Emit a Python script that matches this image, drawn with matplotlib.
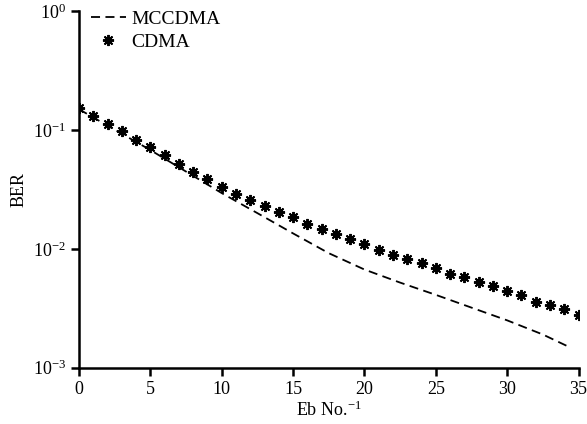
import numpy as np
import matplotlib
matplotlib.use('Agg')
import matplotlib.pyplot as plt

# CDMA: one point per integer Eb/No
cdma_x = np.arange(0, 36)
cdma_ber = [0.154, 0.132, 0.113, 0.098, 0.083, 0.072, 0.062, 0.052, 0.044, 0.039,
            0.033, 0.029, 0.0258, 0.023, 0.0205, 0.0186, 0.0162, 0.0147, 0.0133, 0.0121,
            0.0110, 0.0098, 0.0089, 0.0082, 0.0076, 0.0069, 0.0061, 0.0058, 0.0053, 0.0049,
            0.0044, 0.0041, 0.0036, 0.0034, 0.0031, 0.0028]

# MCCDMA: dashed curve
mc_x = [0, 5, 10, 12.5, 15, 17.5, 20, 22.5, 25, 27.5, 30, 32.5, 34.3]
mc_ber = [0.150, 0.068, 0.0295, 0.020, 0.0135, 0.0092, 0.0067, 0.0052, 0.0041,
          0.0032, 0.0025, 0.0019, 0.0015]

plt.rcParams['font.family'] = ['Liberation Serif', 'DejaVu Serif']
plt.rcParams['mathtext.fontset'] = 'custom'
plt.rcParams['mathtext.rm'] = 'Liberation Serif'
plt.rcParams['mathtext.it'] = 'Liberation Serif:italic'

fig = plt.figure(figsize=(5.87, 4.24), dpi=100)
ax = fig.add_axes([0.1346, 0.133, 0.851, 0.840])

ax.plot(mc_x, mc_ber, color='black', linestyle=(0, (5, 3)), linewidth=1.3, label='MCCDMA')
ax.plot(cdma_x, cdma_ber, linestyle='none', marker=(8, 2, 0), markersize=8,
        markeredgewidth=1.4, color='black', label='CDMA')

ax.set_yscale('log')
ax.set_xlim(0, 35)
ax.set_ylim(1e-3, 1)
ax.set_xticks(range(0, 36, 5))
ax.set_yticks([1e-3, 1e-2, 1e-1, 1])
ax.set_yticklabels(['$10^{-3}$', '$10^{-2}$', '$10^{-1}$', '$10^{0}$'])
ax.minorticks_off()

for s in ['top', 'right']:
    ax.spines[s].set_visible(False)
for s in ['left', 'bottom']:
    ax.spines[s].set_linewidth(1.8)
ax.tick_params(direction='out', length=6, width=1.8, labelsize=13)

ax.set_xlabel('Eb No.$^{-1}$', fontsize=13, labelpad=2)
ax.set_ylabel('BER', fontsize=13)

ax.legend(loc='upper left', frameon=False, fontsize=14, handlelength=1.8,
          handletextpad=0.3, borderaxespad=0.2, labelspacing=0.25,
          bbox_to_anchor=(0.0, 1.035))

fig.savefig('out.png', dpi=100)
